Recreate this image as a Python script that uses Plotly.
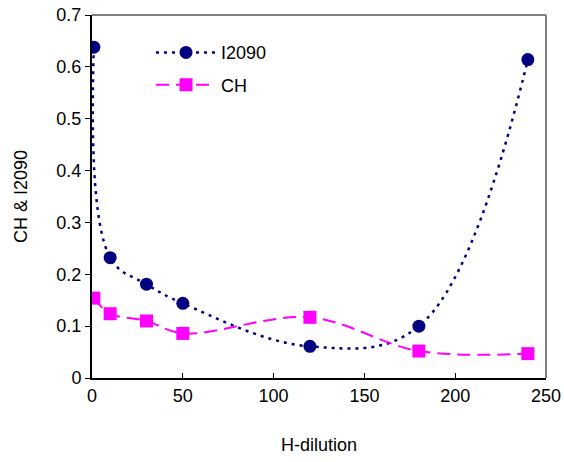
import plotly.graph_objects as go

h_dilution = [1, 10, 30, 50, 120, 180, 240]
i2090 = [0.638, 0.232, 0.181, 0.144, 0.061, 0.100, 0.614]
ch = [0.154, 0.124, 0.110, 0.086, 0.117, 0.052, 0.047]

x_ticks = [0, 50, 100, 150, 200, 250]
y_ticks = [0, 0.1, 0.2, 0.3, 0.4, 0.5, 0.6, 0.7]

FONT = "Liberation Sans, Arial, sans-serif"

fig = go.Figure()
fig.add_trace(go.Scatter(
    x=h_dilution, y=i2090, name="I2090", mode="lines+markers", legendgroup="a",
    line=dict(color="#000080", width=2.5, dash="3px,5px", shape="spline", smoothing=1.1),
    marker=dict(symbol="circle", size=13, color="#000080"),
))
fig.add_trace(go.Scatter(
    x=h_dilution, y=ch, name="CH", mode="lines+markers", legendgroup="b",
    line=dict(color="#FF00FF", width=2, dash="13px,7px", shape="spline", smoothing=1),
    marker=dict(symbol="square", size=13, color="#FF00FF"),
))

fig.update_layout(
    width=564, height=462,
    margin=dict(l=92, r=18, t=15, b=84),
    paper_bgcolor="white", plot_bgcolor="white",
    font=dict(family=FONT, size=18, color="black"),
    showlegend=True,
    legend=dict(x=0.13, y=0.947, xanchor="left", yanchor="top",
                bgcolor="rgba(0,0,0,0)", font=dict(size=18), tracegroupgap=6,
                itemwidth=60),
    xaxis=dict(range=[0, 250], tickvals=x_ticks, showgrid=False, zeroline=False,
               showline=True, linecolor="black", linewidth=2, automargin=False,
               ticks="inside", ticklen=5, tickcolor="black",
               tickfont=dict(size=18),
               title=dict(text="H-dilution", font=dict(size=18), standoff=34)),
    yaxis=dict(range=[0, 0.7], tickvals=y_ticks, showgrid=False, zeroline=False,
               showline=True, linecolor="black", linewidth=2, automargin=False,
               ticks="outside", ticklen=5, tickcolor="black",
               tickfont=dict(size=18),
               title=dict(text="CH & I2090", font=dict(size=18), standoff=24)),
    shapes=[
        dict(type="line", xref="paper", yref="paper", x0=0, x1=1, y0=1, y1=1,
             line=dict(color="#808080", width=2)),
        dict(type="line", xref="paper", yref="paper", x0=1, x1=1, y0=0, y1=1,
             line=dict(color="#808080", width=2)),
    ],
)

fig.write_html("out.html")
